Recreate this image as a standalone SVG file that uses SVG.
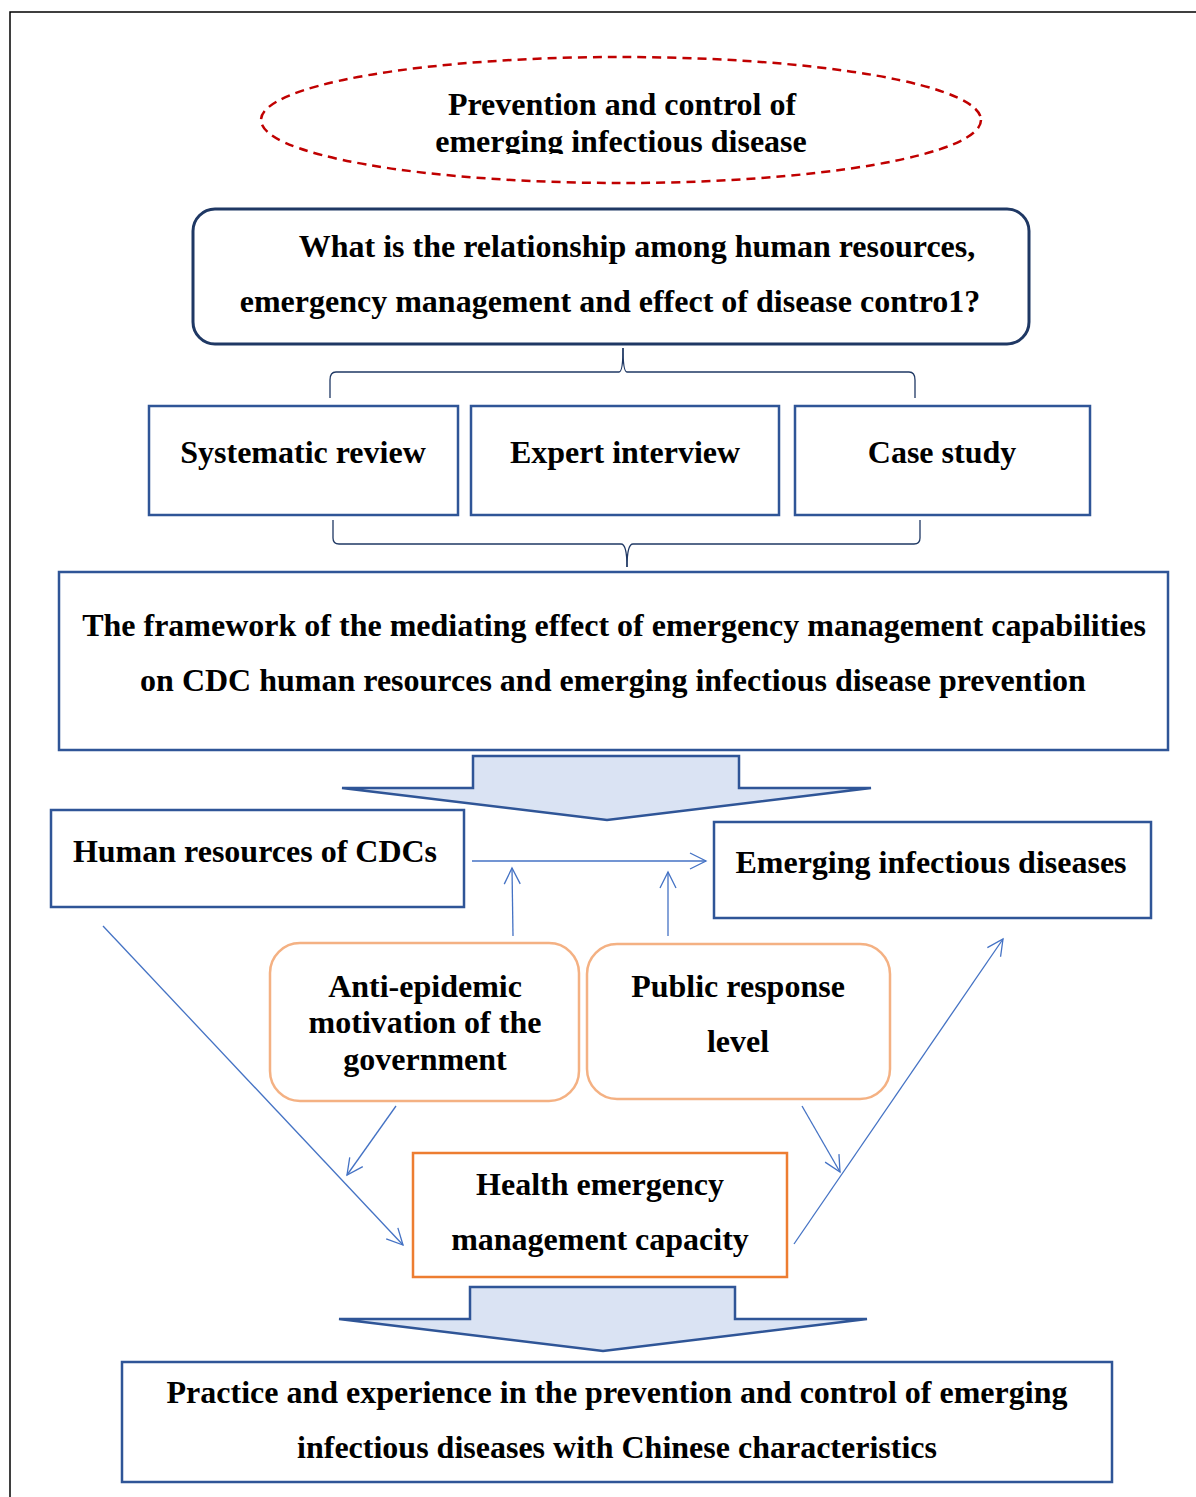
<svg xmlns="http://www.w3.org/2000/svg" width="1196" height="1497" viewBox="0 0 1196 1497">
  <style>
    .t { font-family: "Liberation Serif", "Times New Roman", serif; font-weight: bold; fill: #000; text-anchor: middle; }
    .s28 { font-size: 32px; }
    .s30 { font-size: 32px; }
    .box { fill: #fff; stroke: #2F5597; stroke-width: 2.5; }
    .orange { fill: #fff; stroke: #F4B183; stroke-width: 2.5; }
    .brace { fill: none; stroke: #1F3864; stroke-width: 1.3; }
    .conn { fill: none; stroke: #4472C4; stroke-width: 1.3; }
    .block { fill: #DAE3F3; stroke: #2F5597; stroke-width: 2.5; stroke-linejoin: miter; }
  </style>
  <defs>
    <marker id="open" viewBox="0 0 20 20" refX="18" refY="10" markerWidth="20" markerHeight="20" markerUnits="userSpaceOnUse" orient="auto">
      <path d="M2,2 L18,10 L2,18" fill="none" stroke="#4472C4" stroke-width="1.3"/>
    </marker>
    <clipPath id="ellipseTextClip">
      <rect x="0" y="0" width="1196" height="154"/>
    </clipPath>
  </defs>

  <rect width="1196" height="1497" fill="#fff"/>
  <!-- page frame -->
  <path d="M10,1497 L10,12 L1196,12" fill="none" stroke="#000" stroke-width="1.5"/>

  <!-- title ellipse -->
  <g id="title">
    <ellipse cx="621" cy="120" rx="360" ry="63" fill="none" stroke="#C00000" stroke-width="2.5" stroke-dasharray="9,6"/>
    <g clip-path="url(#ellipseTextClip)">
      <text class="t s28" x="622" y="115">Prevention and control of</text>
      <text class="t s28" x="621" y="152">emerging infectious disease</text>
    </g>
  </g>

  <!-- research question -->
  <g id="question">
    <rect x="193" y="209" width="836" height="135" rx="22" fill="#fff" stroke="#1F3864" stroke-width="3"/>
    <text class="t s28" x="637" y="257">What is the relationship among human resources,</text>
    <text class="t s28" x="610" y="312">emergency management and effect of disease contro1?</text>
  </g>

  <!-- methods -->
  <g id="systematic-review">
    <rect class="box" x="149" y="406" width="309" height="109"/>
    <text class="t s30" x="303" y="463">Systematic review</text>
  </g>
  <g id="expert-interview">
    <rect class="box" x="471" y="406" width="308" height="109"/>
    <text class="t s30" x="625" y="463">Expert interview</text>
  </g>
  <g id="case-study">
    <rect class="box" x="795" y="406" width="295" height="109"/>
    <text class="t s30" x="942" y="463">Case study</text>
  </g>

  <!-- framework -->
  <g id="framework">
    <rect class="box" x="59" y="572" width="1109" height="178"/>
    <text class="t s30" x="614" y="636">The framework of the mediating effect of emergency management capabilities</text>
    <text class="t s30" x="613" y="691">on CDC human resources and emerging infectious disease prevention</text>
  </g>

  <!-- model variables -->
  <g id="human-resources">
    <rect class="box" x="51" y="810" width="413" height="97"/>
    <text class="t s30" x="255" y="862">Human resources of CDCs</text>
  </g>
  <g id="emerging-diseases">
    <rect class="box" x="714" y="822" width="437" height="96"/>
    <text class="t s30" x="931" y="873">Emerging infectious diseases</text>
  </g>
  <g id="government-motivation">
    <rect class="orange" x="270" y="943" width="309" height="158" rx="30"/>
    <text class="t s30" x="425" y="997">Anti-epidemic</text>
    <text class="t s30" x="425" y="1033">motivation of the</text>
    <text class="t s30" x="425" y="1070">government</text>
  </g>
  <g id="public-response">
    <rect class="orange" x="587" y="944" width="303" height="155" rx="30"/>
    <text class="t s30" x="738" y="997">Public response</text>
    <text class="t s30" x="738" y="1052">level</text>
  </g>
  <g id="emergency-capacity">
    <rect x="413" y="1153" width="374" height="124" fill="#fff" stroke="#ED7D31" stroke-width="2.5"/>
    <text class="t s30" x="600" y="1195">Health emergency</text>
    <text class="t s30" x="600" y="1250">management capacity</text>
  </g>

  <!-- conclusion -->
  <g id="practice">
    <rect class="box" x="122" y="1362" width="990" height="120"/>
    <text class="t s30" x="617" y="1403">Practice and experience in the prevention and control of emerging</text>
    <text class="t s30" x="617" y="1458">infectious diseases with Chinese characteristics</text>
  </g>

  <!-- connectors -->
  <g id="connectors">
    <!-- braces -->
    <path class="brace" d="M623,348 Q623,372 619,372 L336,372 Q330,372 330,380 L330,398"/>
    <path class="brace" d="M623,348 Q623,372 627,372 L909,372 Q915,372 915,380 L915,398"/>
    <path class="brace" d="M333,520 L333,538 Q333,544 339,544 L621,544 Q627,544 627,567"/>
    <path class="brace" d="M920,520 L920,538 Q920,544 914,544 L633,544 Q627,544 627,567"/>

    <!-- block arrows -->
    <path class="block" d="M473,756 L739,756 L739,788 L871,788 L607,820 L342,788 L473,788 Z"/>
    <path class="block" d="M470,1287 L735,1287 L735,1319 L867,1319 L603,1351 L339,1319 L470,1319 Z"/>

    <!-- relations -->
    <line class="conn" x1="472" y1="861" x2="706" y2="861" marker-end="url(#open)"/>
    <line class="conn" x1="513" y1="936" x2="512" y2="868" marker-end="url(#open)"/>
    <line class="conn" x1="668" y1="936" x2="668" y2="872" marker-end="url(#open)"/>
    <line class="conn" x1="103" y1="926" x2="403" y2="1245" marker-end="url(#open)"/>
    <line class="conn" x1="396" y1="1106" x2="347" y2="1175" marker-end="url(#open)"/>
    <line class="conn" x1="802" y1="1106" x2="840" y2="1172" marker-end="url(#open)"/>
    <line class="conn" x1="794" y1="1244" x2="1003" y2="939" marker-end="url(#open)"/>
  </g>
</svg>
